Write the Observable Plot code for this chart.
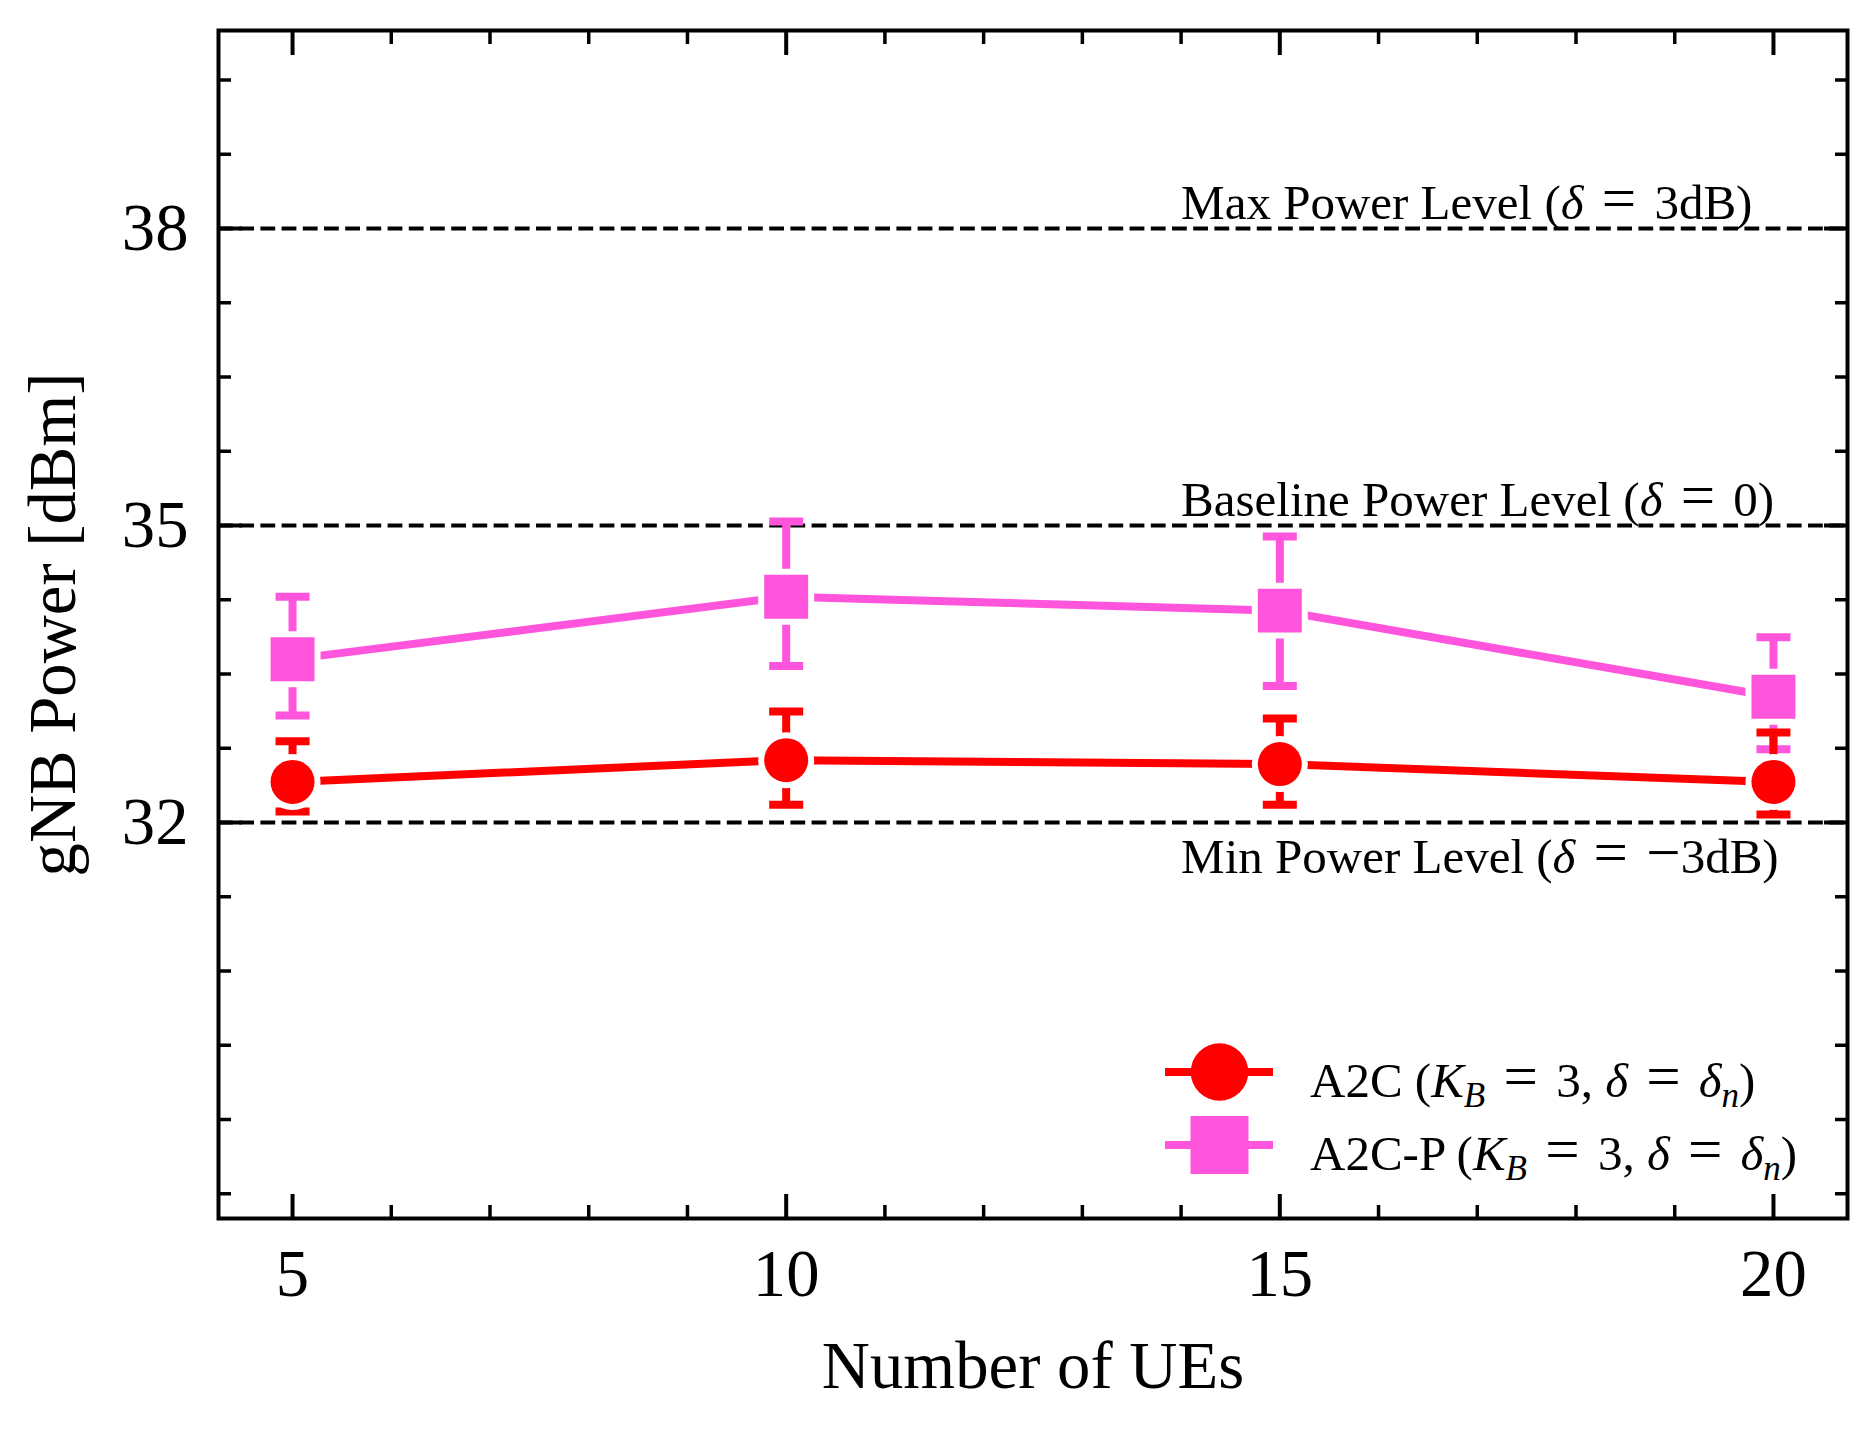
<!DOCTYPE html>
<html><head><meta charset="utf-8">
<script src="https://cdn.jsdelivr.net/npm/d3@7"></script>
<script src="https://cdn.jsdelivr.net/npm/@observablehq/plot@0.6"></script>
<style>
html,body{margin:0;padding:0;background:#fff;}
#chart{position:relative;width:1875px;height:1430px;}
svg{display:block;}
</style></head><body><div id="chart"></div>
<script>
// ---------- data ----------
const ues = [5, 10, 15, 20];
const a2cMean = [32.41, 32.63, 32.59, 32.41];
const a2cLow  = [32.11, 32.18, 32.18, 32.08];
const a2cHigh = [32.82, 33.12, 33.05, 32.91];
const a2cpMean = [33.65, 34.28, 34.14, 33.27];
const a2cpLow  = [33.08, 33.58, 33.38, 32.74];
const a2cpHigh = [34.28, 35.04, 34.89, 33.87];

const levelValues = [38, 35, 32];
const levelLabels = ["Max Power Level (δ = 3dB)", "Baseline Power Level (δ = 0)", "Min Power Level (δ = −3dB)"];
const seriesNames = ["A2C", "A2C-P"];

const xMajorTicks = [5, 10, 15, 20];
const xMinorTicks = [6, 7, 8, 9, 11, 12, 13, 14, 16, 17, 18, 19];
const yMajorTicks = [32, 35, 38];
const yMinorTicks = [28.25, 29, 29.75, 30.5, 31.25, 32.75, 33.5, 34.25, 35.75, 36.5, 37.25, 38.75, 39.5];

const xLabel = "Number of UEs";
const yLabel = "gNB Power [dBm]";

// ---------- build ----------
const RED = "#ff0000", PINK = "#ff55dd";
const FONT = "'Liberation Serif','Times New Roman',serif";

const rows = (m, lo, hi) => ues.map((u, i) => ({ues: u, mean: m[i], low: lo[i], high: hi[i]}));
const a2cRows = rows(a2cMean, a2cLow, a2cHigh);
const a2cpRows = rows(a2cpMean, a2cpLow, a2cpHigh);

const capSymbol = {draw(ctx, size) { const h = Math.sqrt(size / Math.PI); ctx.moveTo(-h, 0); ctx.lineTo(h, 0); }};

function errorMarks(data, color) {
  return [
    Plot.ruleX(data, {x: "ues", y1: "low", y2: "high", stroke: color, strokeWidth: 8}),
    Plot.dot(data, {x: "ues", y: "low", symbol: capSymbol, r: 17, fill: "none", stroke: color, strokeWidth: 8}),
    Plot.dot(data, {x: "ues", y: "high", symbol: capSymbol, r: 17, fill: "none", stroke: color, strokeWidth: 8})
  ];
}

const levelRows = levelValues.map((v, i) => ({v, label: levelLabels[i]}));

const svg = Plot.plot({
  width: 1875, height: 1430,
  marginLeft: 218, marginRight: 28, marginTop: 30, marginBottom: 212,
  style: {fontFamily: FONT, fontSize: "66.7px", background: "white", color: "black", overflow: "visible"},
  x: {domain: [4.25, 20.75]},
  y: {domain: [28, 40]},
  marks: [
    Plot.ruleY(levelValues, {stroke: "black", strokeWidth: 4, strokeDasharray: "14.8,6.4"}),
    Plot.text(levelRows.filter(d => d.v > 32), {x: 14, y: "v", text: "label", textAnchor: "start", lineAnchor: "bottom", dy: -10, fontSize: 49, className: "level-label"}),
    Plot.text(levelRows.filter(d => d.v <= 32), {x: 14, y: "v", text: "label", textAnchor: "start", lineAnchor: "bottom", dy: 50, fontSize: 49, className: "level-label"}),
    Plot.line(a2cRows, {x: "ues", y: "mean", stroke: RED, strokeWidth: 8}),
    Plot.line(a2cpRows, {x: "ues", y: "mean", stroke: PINK, strokeWidth: 8}),
    ...errorMarks(a2cpRows, PINK),
    ...errorMarks(a2cRows, RED),
    Plot.dot(a2cpRows, {x: "ues", y: "mean", symbol: "square", r: 24.8, fill: PINK, stroke: "white", strokeWidth: 12, paintOrder: "stroke"}),
    Plot.dot(a2cRows, {x: "ues", y: "mean", symbol: "circle", r: 22, fill: RED, stroke: "white", strokeWidth: 12, paintOrder: "stroke"}),
    // ticks (inward)
    Plot.axisX({anchor: "bottom", ticks: xMajorTicks, tickSize: -24, text: null, strokeWidth: 4, label: null}),
    Plot.axisX({anchor: "bottom", ticks: xMinorTicks, tickSize: -13, text: null, strokeWidth: 3.5, label: null}),
    Plot.axisX({anchor: "top", ticks: xMajorTicks, tickSize: -24, text: null, strokeWidth: 4, label: null}),
    Plot.axisX({anchor: "top", ticks: xMinorTicks, tickSize: -13, text: null, strokeWidth: 3.5, label: null}),
    Plot.axisY({anchor: "left", ticks: yMajorTicks, tickSize: -24, text: null, strokeWidth: 4, label: null}),
    Plot.axisY({anchor: "left", ticks: yMinorTicks, tickSize: -13, text: null, strokeWidth: 3.5, label: null}),
    Plot.axisY({anchor: "right", ticks: yMajorTicks, tickSize: -24, text: null, strokeWidth: 4, label: null}),
    Plot.axisY({anchor: "right", ticks: yMinorTicks, tickSize: -13, text: null, strokeWidth: 3.5, label: null}),
    // tick labels
    Plot.axisX({anchor: "bottom", ticks: xMajorTicks, tickSize: 0, tickPadding: 30, fontSize: 66.7, label: null}),
    Plot.axisY({anchor: "left", ticks: yMajorTicks, tickSize: 0, tickPadding: 30, fontSize: 66.7, label: null}),
    // axis titles
    Plot.text([xLabel], {frameAnchor: "bottom", text: d => d, dy: 169, textAnchor: "middle", lineAnchor: "bottom", fontSize: 66.7}),
    Plot.text([yLabel], {frameAnchor: "left", text: d => d, rotate: -90, dx: -144, textAnchor: "middle", lineAnchor: "bottom", fontSize: 66.7}),
    Plot.frame({stroke: "black", strokeWidth: 4})
  ]
});

document.getElementById("chart").appendChild(svg);

// rich text: italic delta and wider "=" in level labels
d3.select(svg).selectAll(".level-label text").each(function() {
  const s = this.textContent;
  const t = d3.select(this);
  t.text(null);
  let afterEq = false;
  s.split(/(δ|=|−)/).forEach(part => {
    if (!part) return;
    const ts = t.append("tspan").text(part);
    if (afterEq) { ts.attr("dx", 6); afterEq = false; }
    if (part === "δ") ts.attr("font-style", "italic");
    if (part === "=") { ts.attr("dx", 6).attr("font-size", 61); afterEq = true; }
    if (part === "−") { ts.attr("font-size", 61); }
  });
});

// legend
const colors = [RED, PINK];
const legend = d3.select(svg).append("g").attr("font-family", FONT).attr("font-size", 49).attr("text-anchor", "start");
seriesNames.forEach((name, i) => {
  const cy = 1072 + i * 73;
  const g = legend.append("g");
  g.append("line").attr("x1", 1165).attr("x2", 1273).attr("y1", cy).attr("y2", cy)
    .attr("stroke", colors[i]).attr("stroke-width", 8);
  if (i === 0) g.append("circle").attr("cx", 1219.5).attr("cy", cy).attr("r", 28.8).attr("fill", colors[i]);
  else g.append("rect").attr("x", 1219.5 - 29).attr("y", cy - 29).attr("width", 58).attr("height", 58).attr("fill", colors[i]);
  const t = g.append("text").attr("x", 1310).attr("y", cy + 25).attr("fill", "black").attr("text-anchor", "start");
  const segs = [[name + " (", 0], ["K", 1], ["B", 1, 1], [" ", 0], ["=", 0, 0, 1], [" 3, ", 0], ["δ", 1], [" ", 0], ["=", 0, 0, 1], [" ", 0], ["δ", 1], ["n", 1, 1], [")", 0]];
  let shifted = false, afterEq = false;
  segs.forEach(([txt, it, sub, eq]) => {
    const ts = t.append("tspan").text(txt);
    let dy = 0;
    if (it) ts.attr("font-style", "italic");
    if (sub) { ts.attr("font-size", 35); dy += 10; shifted = true; }
    else if (shifted) { dy -= 10; shifted = false; }
    if (dy) ts.attr("dy", dy);
    if (afterEq) { ts.attr("dx", 6); afterEq = false; }
    if (eq) { ts.attr("dx", 6).attr("font-size", 61); afterEq = true; }
  });
});
</script></body></html>
